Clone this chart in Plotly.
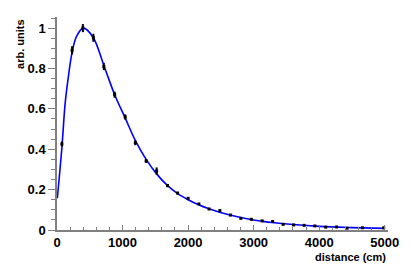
import plotly.graph_objects as go

# measured data points
dist_cm = [75, 230, 395, 555, 715, 880, 1040, 1195, 1360, 1520, 1685, 1840, 2000, 2165,
           2320, 2485, 2645, 2805, 2965, 3130, 3290, 3450, 3610, 3770, 3935, 4100, 4265,
           4425, 4660, 4985]
signal = [0.426, 0.89, 1.0, 0.952, 0.81, 0.67, 0.56, 0.432, 0.342, 0.292, 0.22, 0.183,
          0.157, 0.129, 0.104, 0.096, 0.074, 0.058, 0.053, 0.045, 0.042, 0.028, 0.025,
          0.023, 0.02, 0.014, 0.015, 0.009, 0.011, 0.011]
signal_err = [0.012, 0.02, 0.02, 0.02, 0.018, 0.015, 0.013, 0.012, 0.01, 0.018, 0.008,
              0.006, 0.006, 0.005, 0.005, 0.005, 0.005, 0.004, 0.004, 0.004, 0.004, 0.004,
              0.003, 0.003, 0.003, 0.003, 0.003, 0.003, 0.003, 0.003]

# fitted curve
fit_x = [5, 75, 125, 178, 230, 300, 400, 550, 720, 880, 1040, 1200, 1360, 1520, 1680,
         1840, 2000, 2160, 2320, 2480, 2640, 2800, 2960, 3120, 3280, 3600, 4000, 4500, 5000]
fit_y = [0.157, 0.41, 0.63, 0.77, 0.88, 0.96, 1.0, 0.955, 0.81, 0.67, 0.555, 0.44, 0.35,
         0.278, 0.222, 0.18, 0.15, 0.125, 0.105, 0.088, 0.074, 0.062, 0.052, 0.044, 0.037,
         0.027, 0.018, 0.012, 0.008]

x_ticks = [0, 1000, 2000, 3000, 4000, 5000]
y_ticks = [0, 0.2, 0.4, 0.6, 0.8, 1]

fig = go.Figure()
fig.add_trace(go.Scatter(x=fit_x, y=fit_y, mode="lines", line=dict(color="#0000ff", width=1.6, shape="spline"),
                         hoverinfo="skip"))
fig.add_trace(go.Scatter(x=dist_cm, y=signal, mode="markers",
                         marker=dict(color="black", size=3, symbol="square"),
                         error_y=dict(type="data", array=signal_err, color="black", thickness=2, width=0)))

font = dict(family="Liberation Sans, Arial, sans-serif", size=13, color="black", weight="bold")
fig.update_layout(
    width=409, height=258,
    margin=dict(l=49, r=29, t=9, b=36),
    paper_bgcolor="white", plot_bgcolor="white",
    showlegend=False,
    font=font,
)
fig.update_xaxes(range=[0, 5050], tickvals=x_ticks, ticktext=[str(v) for v in x_ticks],
                 showgrid=False, zeroline=False, showline=True, linecolor="#808080", linewidth=1.5,
                 ticks="inside", ticklen=5, tickcolor="#808080", tickwidth=1,
                 minor=dict(dtick=200, ticks="inside", ticklen=3, tickcolor="#808080"),
                 tickfont=font, automargin=False)
fig.update_yaxes(range=[0, 1.055], tickvals=y_ticks, ticktext=["0", "0.2", "0.4", "0.6", "0.8", "1"],
                 showgrid=False, zeroline=False, showline=True, linecolor="#808080", linewidth=1.5,
                 ticks="outside", ticklen=7, tickcolor="#808080", tickwidth=1,
                 minor=dict(dtick=0.05, ticks="outside", ticklen=4, tickcolor="#808080"),
                 tickfont=font, automargin=False)

fig.add_annotation(text="arb. units", xref="paper", yref="paper", x=-0.112, y=1.0,
                   xanchor="center", yanchor="top", textangle=-90, showarrow=False,
                   font=dict(family="Liberation Sans, Arial, sans-serif", size=11, color="black", weight="bold"))
fig.add_annotation(text="distance (cm)", xref="paper", yref="paper", x=1.0, y=-0.088,
                   xanchor="right", yanchor="top", showarrow=False,
                   font=dict(family="Liberation Sans, Arial, sans-serif", size=11, color="black", weight="bold"))

fig.write_html("out.html")
